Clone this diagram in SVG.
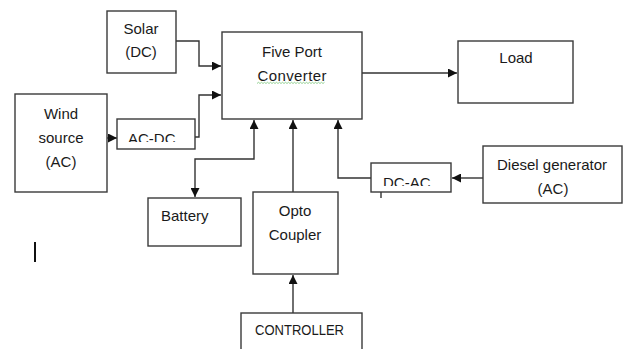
<svg xmlns="http://www.w3.org/2000/svg" width="624" height="349" viewBox="0 0 624 349">
<style>
.box{fill:#fff;stroke:#3a3a3a;stroke-width:1.4}
.ln{fill:none;stroke:#333;stroke-width:1.4}
text{font-family:"Liberation Sans",Arial,sans-serif;font-size:15px;fill:#1a1a1a}
.c{text-anchor:middle}
</style>
<defs>
<marker id="ah" markerUnits="userSpaceOnUse" markerWidth="10" markerHeight="9" refX="9" refY="4.5" orient="auto-start-reverse">
<path d="M0,0 L9,4.5 L0,9 Z" fill="#111"/>
</marker>
<clipPath id="clipAC"><rect x="117" y="119" width="78" height="23"/></clipPath>
<clipPath id="clipDC"><rect x="371" y="163" width="80" height="23"/></clipPath>
</defs>
<rect width="624" height="349" fill="#fff"/>

<g id="connectors">
<path class="ln" d="M176 41 H199 V66 H221" marker-end="url(#ah)"/>
<path class="ln" d="M195 137 H199 V95 H221" marker-end="url(#ah)"/>
<path class="ln" d="M107 138 H117" marker-end="url(#ah)"/>
<path class="ln" d="M362 73 H457" marker-end="url(#ah)"/>
<path class="ln" d="M195 197 V159 H254 V120" marker-start="url(#ah)" marker-end="url(#ah)"/>
<path class="ln" d="M293 192 V120" marker-end="url(#ah)"/>
<path class="ln" d="M293 313 V275" marker-end="url(#ah)"/>
<path class="ln" d="M371 178 H338 V120" marker-end="url(#ah)"/>
<path class="ln" d="M483 178 H452" marker-end="url(#ah)"/>
<path class="ln" d="M381 192 V198"/>
</g>

<g id="solar">
<rect class="box" x="107" y="11" width="69" height="62"/>
<text class="c" x="141" y="34">Solar</text>
<text class="c" x="141" y="57">(DC)</text>
</g>

<g id="converter">
<rect class="box" x="222" y="32" width="140" height="87"/>
<text class="c" x="292" y="57">Five Port</text>
<text class="c" x="292" y="81" textLength="69">Converter</text>
<path d="M257 83.5 l1.5 -1.2 l1.5 1.2 l1.5 -1.2 l1.5 1.2 l1.5 -1.2 l1.5 1.2 l1.5 -1.2 l1.5 1.2 l1.5 -1.2 l1.5 1.2 l1.5 -1.2 l1.5 1.2 l1.5 -1.2 l1.5 1.2 l1.5 -1.2 l1.5 1.2 l1.5 -1.2 l1.5 1.2 l1.5 -1.2 l1.5 1.2 l1.5 -1.2 l1.5 1.2 l1.5 -1.2 l1.5 1.2 l1.5 -1.2 l1.5 1.2 l1.5 -1.2 l1.5 1.2 l1.5 -1.2 l1.5 1.2 l1.5 -1.2 l1.5 1.2 l1.5 -1.2 l1.5 1.2 l1.5 -1.2 l1.5 1.2 l1.5 -1.2 l1.5 1.2 l1.5 -1.2 l1.5 1.2 l1.5 -1.2 l1.5 1.2 l1.5 -1.2 l1.5 1.2 l1.5 -1.2" fill="none" stroke="#7ac47a" stroke-width="0.8"/>
</g>

<g id="load">
<rect class="box" x="458" y="41" width="115" height="62"/>
<text class="c" x="516" y="63">Load</text>
</g>

<g id="wind">
<rect class="box" x="15" y="94" width="92" height="98"/>
<text class="c" x="61" y="119">Wind</text>
<text class="c" x="61" y="143">source</text>
<text class="c" x="61" y="167">(AC)</text>
</g>

<g id="acdc">
<rect class="box" x="117" y="119" width="78" height="30"/>
<text x="128" y="144" clip-path="url(#clipAC)">AC-DC</text>
</g>

<g id="dcac">
<rect class="box" x="371" y="163" width="80" height="29"/>
<text x="383" y="188" clip-path="url(#clipDC)">DC-AC</text>
</g>

<g id="diesel">
<rect class="box" x="483" y="146" width="139" height="57"/>
<text class="c" x="552" y="170">Diesel generator</text>
<text class="c" x="553" y="194">(AC)</text>
</g>

<g id="battery">
<rect class="box" x="148" y="198" width="93" height="48"/>
<text x="161" y="221">Battery</text>
</g>

<g id="opto">
<rect class="box" x="253" y="192" width="85" height="82"/>
<text class="c" x="295" y="216">Opto</text>
<text class="c" x="295" y="240">Coupler</text>
</g>

<g id="controller">
<rect class="box" x="241" y="313" width="121" height="50"/>
<text x="255" y="335" style="font-size:14.5px" textLength="89" lengthAdjust="spacingAndGlyphs">CONTROLLER</text>
</g>

<rect x="34" y="242" width="2" height="20" fill="#111"/>
</svg>
